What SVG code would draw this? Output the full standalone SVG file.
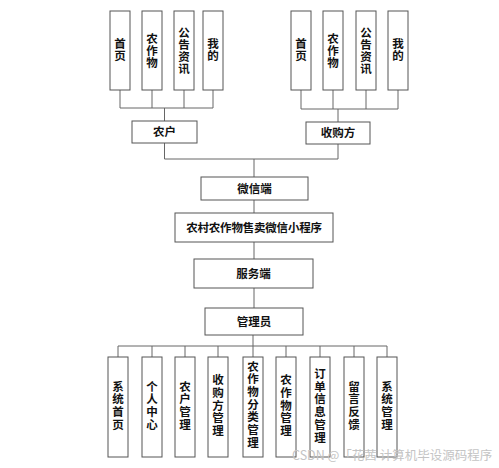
<svg xmlns="http://www.w3.org/2000/svg" width="499" height="468" viewBox="0 0 499 468">
<style>
.b{fill:#fff;stroke:#555;stroke-width:1}
.c{fill:none;stroke:#666;stroke-width:1}
.t{font-family:"Noto Sans CJK SC","Noto Sans",sans-serif;font-size:11.5px;font-weight:bold;fill:#111;text-anchor:middle}
.v{font-family:"Noto Sans CJK SC","Noto Sans",sans-serif;font-size:11.5px;font-weight:bold;fill:#111;text-anchor:middle;writing-mode:vertical-rl;letter-spacing:0.5px}
.v2{letter-spacing:1.2px}
.w{font-family:"Noto Sans CJK SC","Noto Sans",sans-serif;font-size:12.5px;fill:#c4c4c4}
</style>
<rect width="499" height="468" fill="#fff"/>
<g id="connectors">
<path class="c" d="M120,90V108M152,90V108M184,90V108M213,90V108M120,108H213M164.5,108V121"/>
<path class="c" d="M301,90V109M333,90V109M366,90V109M398,90V109M301,109H398M338,109V122"/>
<path class="c" d="M164.5,143V159M338,144V159M164.5,159H338M254,159V177"/>
<path class="c" d="M254,200V213M254,242V259M254,288V308M253,335V346"/>
<path class="c" d="M118,346H387M118,346V357M152,346V357M185,346V357M218,346V357M253,346V357M286,346V357M320,346V357M354,346V357M387,346V357"/>
</g>
<g id="f1"><rect class="b" x="110" y="11" width="20" height="79"/><text class="v" x="120" y="50">首页</text></g>
<g id="f2"><rect class="b" x="142" y="11" width="20" height="79"/><text class="v" x="152" y="50.5">农作物</text></g>
<g id="f3"><rect class="b" x="174" y="11" width="20" height="79"/><text class="v" x="184" y="50.5">公告资讯</text></g>
<g id="f4"><rect class="b" x="203" y="11" width="20" height="79"/><text class="v" x="213" y="50">我的</text></g>
<g id="farmer"><rect class="b" x="132" y="121" width="65" height="22"/><text class="t" x="164.5" y="136">农户</text></g>
<g id="b1"><rect class="b" x="291" y="11" width="20" height="79"/><text class="v" x="301" y="50">首页</text></g>
<g id="b2"><rect class="b" x="323" y="11" width="20" height="79"/><text class="v" x="333" y="50.5">农作物</text></g>
<g id="b3"><rect class="b" x="356" y="11" width="20" height="79"/><text class="v" x="366" y="50.5">公告资讯</text></g>
<g id="b4"><rect class="b" x="388" y="11" width="20" height="79"/><text class="v" x="398" y="50">我的</text></g>
<g id="buyer"><rect class="b" x="306" y="122" width="64" height="22"/><text class="t" x="338" y="137">收购方</text></g>
<g id="wechat"><rect class="b" x="201" y="177" width="107" height="23"/><text class="t" x="254.5" y="192.5">微信端</text></g>
<g id="app"><rect class="b" x="175" y="213" width="158" height="29"/><text class="t" x="254" y="231.5" style="letter-spacing:-0.2px">农村农作物售卖微信小程序</text></g>
<g id="server"><rect class="b" x="194" y="259" width="119" height="29"/><text class="t" x="253.5" y="277.5">服务端</text></g>
<g id="admin"><rect class="b" x="205" y="308" width="98" height="27"/><text class="t" x="254" y="325.5">管理员</text></g>
<g id="m1"><rect class="b" x="108" y="357" width="20" height="100"/><text class="v v2" x="118" y="406">系统首页</text></g>
<g id="m2"><rect class="b" x="142" y="357" width="20" height="100"/><text class="v v2" x="152" y="406">个人中心</text></g>
<g id="m3"><rect class="b" x="175" y="357" width="20" height="100"/><text class="v v2" x="185" y="406">农户管理</text></g>
<g id="m4"><rect class="b" x="208" y="357" width="20" height="100"/><text class="v v2" x="218" y="406">收购方管理</text></g>
<g id="m5"><rect class="b" x="243" y="357" width="20" height="100"/><text class="v v2" x="253" y="405">农作物分类管理</text></g>
<g id="m6"><rect class="b" x="276" y="357" width="20" height="100"/><text class="v v2" x="286" y="406">农作物管理</text></g>
<g id="m7"><rect class="b" x="310" y="357" width="20" height="100"/><text class="v v2" x="320" y="406">订单信息管理</text></g>
<g id="m8"><rect class="b" x="344" y="357" width="20" height="100"/><text class="v v2" x="354" y="406">留言反馈</text></g>
<g id="m9"><rect class="b" x="377" y="357" width="20" height="100"/><text class="v v2" x="387" y="406">系统管理</text></g>
<text class="w" x="292" y="460">CSDN @「花茜 计算机毕设源码程序</text>
</svg>
